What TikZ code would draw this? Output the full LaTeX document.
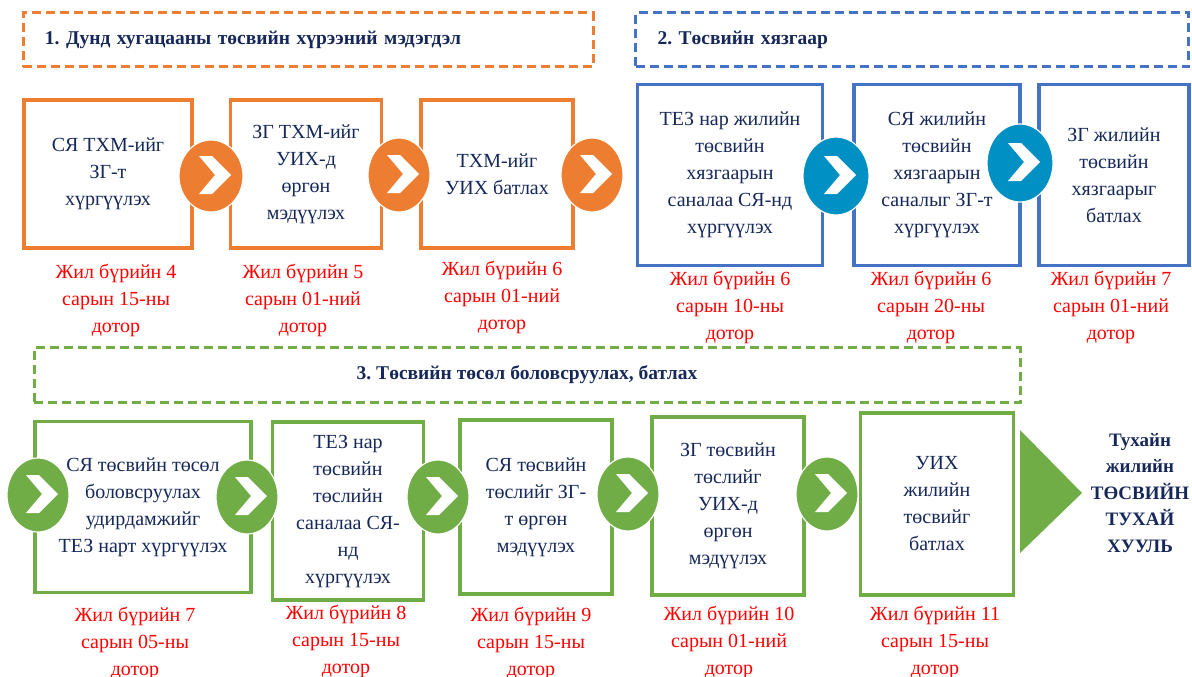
\documentclass[tikz,border=0pt]{standalone}
\usepackage{fontspec}
\setmainfont{Liberation Serif}
\usetikzlibrary{positioning, shapes.geometric}
\frenchspacing

\definecolor{navytxt}{RGB}{22,40,90}
\definecolor{orng}{RGB}{237,125,49}
\definecolor{blubox}{RGB}{68,114,196}
\definecolor{blucirc}{RGB}{0,144,196}
\definecolor{grn}{RGB}{112,173,71}
\definecolor{redtxt}{RGB}{255,0,0}

\begin{document}
\begin{tikzpicture}[x=1pt, y=-1pt]
		\tikzset{head/.style = {draw=#1, line width=3pt, dash pattern=on 9pt off 5pt, inner ysep=0pt, text=navytxt, font=\fontsize{19.5}{22}\selectfont\bfseries}}
		\tikzset{box/.style = {draw=#1, line width=3.5pt, fill=white, inner sep=0pt, align=center, text=navytxt, font=\fontsize{20}{27}\selectfont}}
		\tikzset{circ/.style = {shape=ellipse, fill=#1, draw=white, line width=1.2pt, inner sep=0pt, minimum width=62, minimum height=74}}
		\tikzset{lab/.style = {align=center, text=redtxt, inner sep=0pt, font=\fontsize{20}{27}\selectfont}}
		\tikzset{chev/.pic = {\fill[white] (-12,-20) -- (1,-20) -- (20,-1) -- (1,18) -- (-12,18) -- (4,-1) -- cycle;}}

		\useasboundingbox (0,0) rectangle (1192,677);

		\node[head=orng, minimum width=570, minimum height=54, inner xsep=22, text width=526, align=left] (h1) at (308,40) {1. Дунд хугацааны төсвийн хүрээний мэдэгдэл};
		\node[head=blubox, minimum width=553, minimum height=54, inner xsep=22, text width=509, align=left] (h2) at (912,40) {2. Төсвийн хязгаар};
		\node[head=grn, minimum width=986, minimum height=55, align=center] (h3) at (527,375) {3. Төсвийн төсөл боловсруулах, батлах};

		\node[box=orng, minimum width=168, minimum height=148] (a) at (108,174) {СЯ ТХМ-ийг\\ЗГ-т\\хүргүүлэх};
		\node[box=orng, minimum width=151, minimum height=148] (b) at (306,174) {ЗГ ТХМ-ийг\\УИХ-д\\өргөн\\мэдүүлэх};
		\node[box=orng, minimum width=152, minimum height=148] (c) at (497,174) {ТХМ-ийг\\УИХ батлах};
		\node[box=blubox, minimum width=185, minimum height=181] (d) at (730,175) {ТЕЗ нар жилийн\\төсвийн\\хязгаарын\\саналаа СЯ-нд\\хүргүүлэх};
		\node[box=blubox, minimum width=166, minimum height=181] (e) at (937,175) {СЯ жилийн\\төсвийн\\хязгаарын\\саналыг ЗГ-т\\хүргүүлэх};
		\node[box=blubox, minimum width=150, minimum height=181] (f) at (1114,175) {ЗГ жилийн\\төсвийн\\хязгаарыг\\батлах};

		\node[box=grn, minimum width=216, minimum height=171] (g) at (143,507) {СЯ төсвийн төсөл\\боловсруулах\\удирдамжийг\\ТЕЗ нарт хүргүүлэх};
		\node[box=grn, minimum width=151, minimum height=178] (h) at (348,511) {ТЕЗ нар\\төсвийн\\төслийн\\саналаа СЯ-\\нд\\хүргүүлэх};
		\node[box=grn, minimum width=152, minimum height=174] (i) at (536,507) {СЯ төсвийн\\төслийг ЗГ-\\т өргөн\\мэдүүлэх};
		\node[box=grn, minimum width=152, minimum height=178] (j) at (728,506) {ЗГ төсвийн\\төслийг\\УИХ-д\\өргөн\\мэдүүлэх};
		\node[box=grn, minimum width=153, minimum height=182] (k) at (937,504) {УИХ\\жилийн\\төсвийг\\батлах};

		\node[circ=orng, minimum width=64, minimum height=72] (o1) at (211,176) {};
		\node[circ=orng, minimum width=62, minimum height=74] (o2) at (399,175) {};
		\node[circ=orng, minimum width=62, minimum height=74] (o3) at (592,175) {};
		\node[circ=blucirc, minimum width=66, minimum height=78] (u1) at (836,176) {};
		\node[circ=blucirc, minimum width=66, minimum height=78] (u2) at (1020,163) {};
		\node[circ=grn] (g0) at (38,495) {};
		\node[circ=grn] (g1) at (247,497) {};
		\node[circ=grn] (g2) at (438,497) {};
		\node[circ=grn] (g3) at (628,494) {};
		\node[circ=grn] (g4) at (827,494) {};

		\pic at (o1) {chev}; \pic at (o2) {chev}; \pic at (o3) {chev};
		\pic at (u1) {chev}; \pic at (u2) {chev};
		\pic at (g0) {chev}; \pic at (g1) {chev}; \pic at (g2) {chev};
		\pic at (g3) {chev}; \pic at (g4) {chev};

		\fill[grn] (1020,430) -- (1082,493) -- (1020,553) -- cycle;
		\node[align=center, text=navytxt, inner sep=0pt, font=\fontsize{19}{26.5}\selectfont\bfseries] (law) at (1140,493) {Тухайн\\жилийн\\ТӨСВИЙН\\ТУХАЙ\\ХУУЛЬ};

		\node[lab] (la) at (116,300) {Жил бүрийн 4\\сарын 15-ны\\дотор};
		\node[lab] (lb) at (303,300) {Жил бүрийн 5\\сарын 01-ний\\дотор};
		\node[lab] (lc) at (502,297) {Жил бүрийн 6\\сарын 01-ний\\дотор};
		\node[lab] (ld) at (730,307) {Жил бүрийн 6\\сарын 10-ны\\дотор};
		\node[lab] (le) at (931,307) {Жил бүрийн 6\\сарын 20-ны\\дотор};
		\node[lab] (lf) at (1111,307) {Жил бүрийн 7\\сарын 01-ний\\дотор};
		\node[lab] (lg) at (135,643) {Жил бүрийн 7\\сарын 05-ны\\дотор};
		\node[lab] (lh) at (346,641) {Жил бүрийн 8\\сарын 15-ны\\дотор};
		\node[lab] (li) at (531,643) {Жил бүрийн 9\\сарын 15-ны\\дотор};
		\node[lab] (lj) at (729,642) {Жил бүрийн 10\\сарын 01-ний\\дотор};
		\node[lab] (lk) at (935,642) {Жил бүрийн 11\\сарын 15-ны\\дотор};

	\end{tikzpicture}
\end{document}
